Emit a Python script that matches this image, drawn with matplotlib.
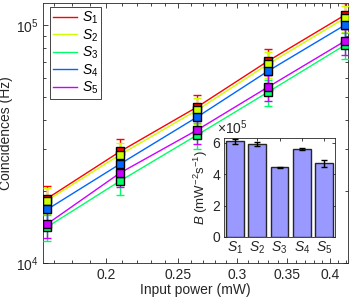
import matplotlib
matplotlib.use("Agg")
import matplotlib.pyplot as plt
import numpy as np
from matplotlib.ticker import FixedLocator, NullFormatter, FixedFormatter, LogLocator, LogFormatterMathtext

plt.rcParams['font.family'] = ['Liberation Sans', 'DejaVu Sans']
plt.rcParams['mathtext.fontset'] = 'custom'
plt.rcParams['mathtext.rm'] = 'Liberation Sans'
plt.rcParams['mathtext.it'] = 'Liberation Sans:italic'
plt.rcParams['mathtext.bf'] = 'Liberation Sans:bold'
plt.rcParams['font.size'] = 10

# ---- data ----
power = [0.1666, 0.2088, 0.2651, 0.3302, 0.419]
series_names = ['$S_1$', '$S_2$', '$S_3$', '$S_4$', '$S_5$']
s1 = [18660, 29410, 45230, 70600, 110200]
s2 = [18300, 28500, 43900, 68500, 107000]
s3 = [14170, 22110, 34500, 52300, 82400]
s4 = [16780, 26060, 41060, 64090, 100000]
s5 = [14580, 23900, 36220, 54890, 85660]
e1 = [2330, 3680, 5650, 8830, 13780]
e2 = [2290, 3560, 5490, 8560, 13380]
e3 = [1770, 2760, 4310, 6540, 10300]
e4 = [2100, 3260, 5130, 8010, 12500]
e5 = [1820, 2990, 4530, 6860, 10710]
B_vals = [6.09e5, 5.90e5, 4.43e5, 5.60e5, 4.68e5]
B_err = [0.15e5, 0.14e5, 0.05e5, 0.09e5, 0.22e5]

colors = [(1, 0, 0), (0.8, 1, 0), (0, 1, 0.4), (0, 0.4, 1), (0.8, 0, 1)]
series = [s1, s2, s3, s4, s5]
errs = [e1, e2, e3, e4, e5]
tc = '#262626'

fig = plt.figure(figsize=(3.51, 2.99), dpi=100)
ax = fig.add_axes([43/351, 1-263/299, 305/351, 260/299])

for ys, es, c, name in zip(series, errs, colors, series_names):
    ax.plot(power, ys, '-', color=c, lw=1.0, label=name, zorder=2)
for ys, es, c in zip(series, errs, colors):
    ax.errorbar(power, ys, yerr=es, fmt='s', color=c, ecolor=c, elinewidth=1.0,
                capsize=3, capthick=1.0, ms=6, mfc=c, mec='k', mew=1.0, zorder=3)

ax.set_xscale('log')
ax.set_yscale('log')
ax.set_xlim(0.1645, 0.4228)
ax.set_ylim(1e4, 1.237e5)
xt = [0.2, 0.25, 0.3, 0.35, 0.4]
ax.xaxis.set_major_locator(FixedLocator(xt))
ax.xaxis.set_major_formatter(FixedFormatter(['0.2', '0.25', '0.3', '0.35', '0.4']))
ax.xaxis.set_minor_locator(FixedLocator(np.arange(0.17, 0.425, 0.01)))
ax.xaxis.set_minor_formatter(NullFormatter())
ax.yaxis.set_major_locator(LogLocator(base=10))
ax.yaxis.set_major_formatter(LogFormatterMathtext())
ax.yaxis.set_minor_locator(LogLocator(base=10, subs=np.arange(2, 10)))
ax.yaxis.set_minor_formatter(NullFormatter())
ax.tick_params(which='both', direction='in', top=True, right=True, width=0.6, colors=tc, labelcolor=tc, labelsize=10)
ax.tick_params(which='major', length=3.5)
ax.tick_params(which='minor', length=2)
for sp in ax.spines.values():
    sp.set_linewidth(0.6)
    sp.set_color(tc)
ax.set_xlabel('Input power (mW)', fontsize=10, color=tc, labelpad=1)
ax.set_ylabel('Coincidences (Hz)', fontsize=10, color=tc, labelpad=2)

leg = ax.legend(loc='upper left', bbox_to_anchor=(0.023, 0.985), borderaxespad=0,
                fontsize=10, handlelength=1.75, handletextpad=0.35, labelspacing=0.08,
                borderpad=0.2, fancybox=False, framealpha=1, edgecolor=tc)
leg.get_frame().set_linewidth(0.6)

# ---- inset ----
ax2 = fig.add_axes([224/351, 1-237/299, 111/351, 99/299])
xpos = np.arange(1, 6)
ax2.bar(xpos, B_vals, width=0.8, color=(0.6, 0.6, 1), edgecolor=tc, linewidth=1.0, zorder=2)
ax2.errorbar(xpos, B_vals, yerr=B_err, fmt='none', ecolor='k', elinewidth=1.0, capsize=2.5, capthick=1.0, zorder=3)
ax2.set_xlim(0.5, 5.5)
ax2.set_ylim(0, 6.3e5)
ax2.set_xticks(xpos)
ax2.set_xticklabels(series_names)
ax2.set_yticks([0, 2e5, 4e5, 6e5])
ax2.ticklabel_format(axis='y', style='sci', scilimits=(0, 0), useMathText=True)
ax2.yaxis.get_offset_text().set_fontsize(10)
ax2.yaxis.get_offset_text().set_color(tc)
ax2.yaxis.get_offset_text().set_x(-0.06)
ax2.tick_params(which='both', direction='in', top=True, right=True, width=0.6, length=2.5,
                colors=tc, labelcolor=tc, labelsize=10, pad=2)
for sp in ax2.spines.values():
    sp.set_linewidth(0.6)
    sp.set_color(tc)
ax2.set_ylabel('$B$ (mW$^{-2}$s$^{-1}$)', fontsize=9.5, color=tc, labelpad=1)

fig.savefig('out.png', dpi=100)
